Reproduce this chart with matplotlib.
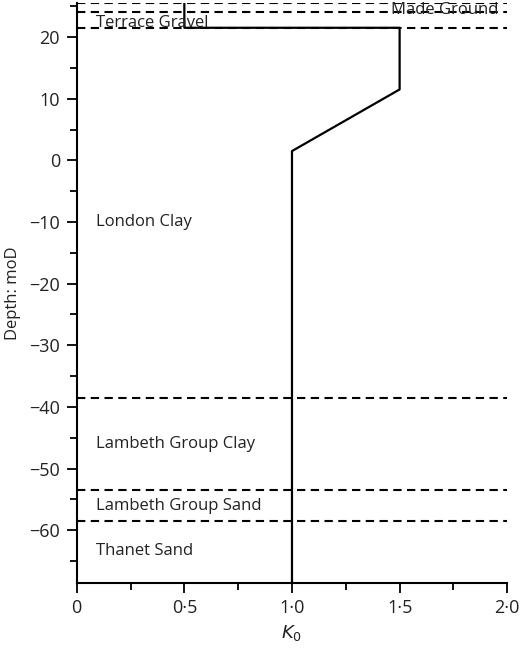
import matplotlib
matplotlib.use("Agg")
import matplotlib.pyplot as plt
from matplotlib.ticker import MultipleLocator, FuncFormatter

plt.rcParams['font.family'] = ['Open Sans', 'DejaVu Sans']

# K0 profile (depth in moD)
k0_values = [0.5, 0.5, 1.5, 1.5, 1.0, 1.0]
k0_depths = [25.5, 21.5, 21.5, 11.5, 1.5, -68.5]

# strata boundaries (dashed lines)
boundaries = [25.5, 24.0, 21.5, -38.5, -53.5, -58.5]

# strata labels
layer_names = ['Made Ground', 'Terrace Gravel', 'London Clay',
               'Lambeth Group Clay', 'Lambeth Group Sand', 'Thanet Sand']
layer_x = [1.46, 0.09, 0.09, 0.09, 0.09, 0.09]
layer_y = [24.4, 22.3, -10.0, -46.0, -56.0, -63.3]


def point_format(v, pos):
    if v == 0:
        return '0'
    return f'{v:.1f}'.replace('.', '\u00b7')


fig = plt.figure(figsize=(5.2, 6.49), dpi=100)
ax = fig.add_axes([0.1475, 0.1022, 0.828, 0.893])

for b in boundaries:
    ax.plot([0, 2.0], [b, b], color='black', lw=1.5, dashes=(4, 2.6), zorder=1)

ax.plot(k0_values, k0_depths, color='black', lw=1.6, zorder=2)

for name, x, y in zip(layer_names, layer_x, layer_y):
    ax.text(x, y, name, fontsize=12, va='center', ha='left', color='#222222')

ax.set_xlim(0, 2.0)
ax.set_ylim(-68.5, 25.5)
ax.xaxis.set_major_locator(MultipleLocator(0.5))
ax.xaxis.set_minor_locator(MultipleLocator(0.25))
ax.yaxis.set_major_locator(MultipleLocator(10))
ax.yaxis.set_minor_locator(MultipleLocator(5))
ax.xaxis.set_major_formatter(FuncFormatter(point_format))
ax.yaxis.set_major_formatter(FuncFormatter(lambda v, p: f'{v:.0f}'.replace('-', '\u2212')))

for s in ['top', 'right']:
    ax.spines[s].set_visible(False)
for s in ['left', 'bottom']:
    ax.spines[s].set_linewidth(1.5)

ax.tick_params(which='both', direction='out', width=1.3, labelsize=13, colors='black')
ax.tick_params(which='major', length=7, pad=5)
ax.tick_params(which='minor', length=5)
for lab in ax.get_xticklabels() + ax.get_yticklabels():
    lab.set_color('#222222')

ax.set_ylabel('Depth: moD', fontsize=12, color='#222222', labelpad=6)
ax.set_xlabel('$K_0$', fontsize=13, color='#222222', labelpad=4)

fig.savefig('out.png', dpi=100)
